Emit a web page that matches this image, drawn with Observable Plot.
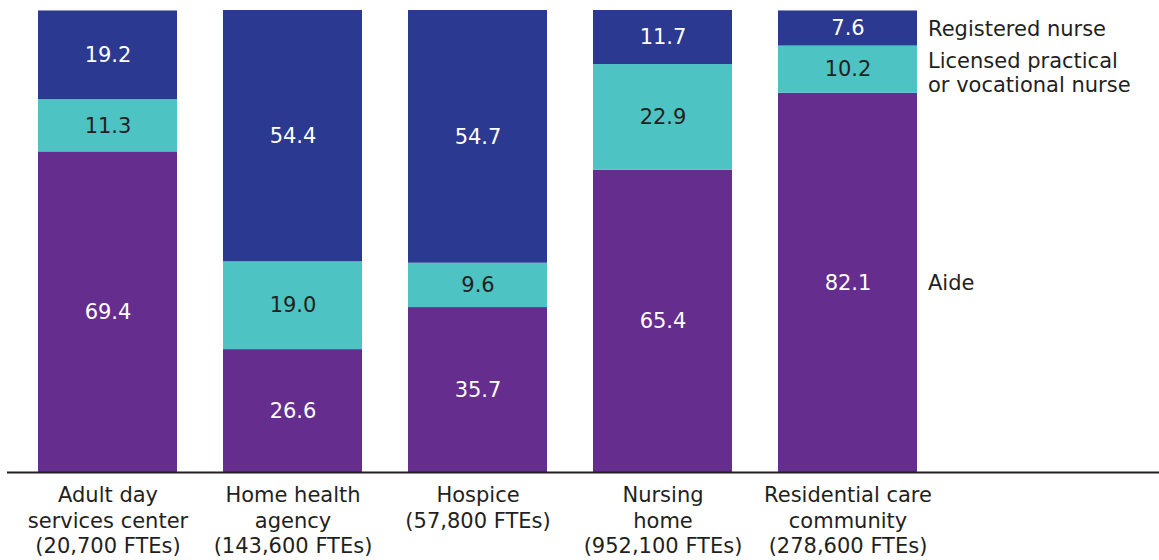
<!DOCTYPE html>
<html>
<head>
<meta charset="utf-8">
<script src="https://cdn.jsdelivr.net/npm/d3@7"></script>
<script src="https://cdn.jsdelivr.net/npm/@observablehq/plot@0.6"></script>
<style>
  html, body { margin: 0; padding: 0; background: #fff; }
  #chart { width: 1159px; height: 560px; }
</style>
</head>
<body>
<div id="chart"></div>
<script>
// Categories (x axis)
const categories = [
  "Adult day services center",
  "Home health agency",
  "Hospice",
  "Nursing home",
  "Residential care community"
];
const categoryLabels = [
  "Adult day\nservices center\n(20,700 FTEs)",
  "Home health\nagency\n(143,600 FTEs)",
  "Hospice\n(57,800 FTEs)",
  "Nursing\nhome\n(952,100 FTEs)",
  "Residential care\ncommunity\n(278,600 FTEs)"
];
// Series (stack order bottom -> top)
const seriesNames = ["Aide", "Licensed practical or vocational nurse", "Registered nurse"];
const seriesLabels = ["Aide", "Licensed practical\nor vocational nurse", "Registered nurse"];
const aide = [69.4, 26.6, 35.7, 65.4, 82.1];
const lpn  = [11.3, 19.0, 9.6, 22.9, 10.2];
const rn   = [19.2, 54.4, 54.7, 11.7, 7.6];
const seriesValues = [aide, lpn, rn];
const colors = ["#652d8e", "#4ec3c3", "#2b3990"];
const textColors = ["#ffffff", "#231f20", "#ffffff"];

const data = [];
seriesNames.forEach((s, si) => {
  categories.forEach((c, ci) => {
    data.push({category: c, type: s, value: seriesValues[si][ci]});
  });
});
const labelOf = new Map(categories.map((c, i) => [c, categoryLabels[i]]));
const seriesLabelOf = new Map(seriesNames.map((s, i) => [s, seriesLabels[i]]));
const textColorOf = new Map(seriesNames.map((s, i) => [s, textColors[i]]));
const lastCat = categories[categories.length - 1];
const lastData = data.filter(d => d.category === lastCat);

const legendOpts = (keep, dy) => Plot.stackY({
  x: "category", y: "value", z: "type",
  text: d => keep(d) ? seriesLabelOf.get(d.type) : null,
  textAnchor: "start",
  dx: 80,
  dy,
  fill: "#231f20",
  fontSize: 21,
  lineHeight: 1.1
});

const font = "'DejaVu Sans', sans-serif";
const chart = Plot.plot({
  width: 1159,
  height: 560,
  marginTop: 10,
  marginBottom: 88,
  marginLeft: 14,
  marginRight: 218,
  style: {fontFamily: font, fontSize: "21px", background: "#fff", color: "#231f20"},
  x: {domain: categories, paddingInner: 0.25, paddingOuter: 0.125, label: null},
  y: {domain: [0, 100], axis: null},
  color: {domain: seriesNames, range: colors},
  marks: [
    Plot.barY(data, {x: "category", y: "value", fill: "type", z: "type"}),
    Plot.text(data, Plot.stackY({
      x: "category", y: "value", z: "type",
      text: d => d3.format(".1f")(d.value),
      fill: d => textColorOf.get(d.type),
      fontSize: 21
    })),
    Plot.text(lastData, legendOpts(d => d.type !== seriesNames[1], 0)),
    Plot.text(lastData, legendOpts(d => d.type === seriesNames[1], 3)),
    Plot.ruleY([0], {stroke: "#231f20", strokeWidth: 2, insetLeft: -7, insetRight: -218}),
    Plot.axisX({
      tickSize: 0,
      tickPadding: 12,
      fontSize: 21,
      lineHeight: 1.2,
      tickFormat: d => labelOf.get(d),
      fill: "#231f20",
      label: null
    })
  ]
});
document.getElementById("chart").append(chart);
</script>
</body>
</html>
